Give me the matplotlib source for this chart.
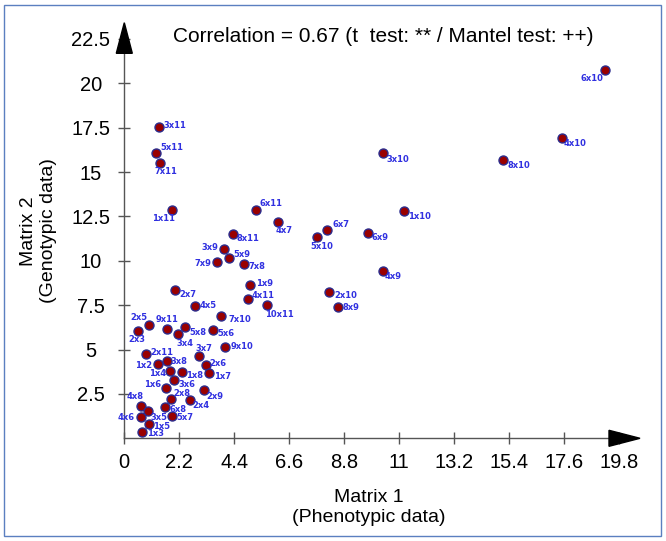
import matplotlib.pyplot as plt
from matplotlib.patches import Polygon, Rectangle

plt.rcParams['font.family'] = ['Liberation Sans', 'DejaVu Sans']

# pair names, phenotypic distance (matrix 1), genotypic distance (matrix 2)
pairs = ['3x11', '5x11', '7x11', '1x11', '6x11', '4x7', '8x11', '3x9', '5x9', '7x9',
         '7x8', '1x9', '4x11', '2x7', '4x5', '10x11', '7x10', '2x5', '9x11', '5x8',
         '2x3', '3x4', '5x6', '9x10', '2x11', '3x7', '3x8', '1x2', '2x6', '1x4',
         '1x8', '1x7', '3x6', '1x6', '2x9', '2x8', '2x4', '4x8', '6x8', '3x5',
         '4x6', '5x7', '1x5', '1x3', '6x7', '5x10', '1x10', '6x9', '4x9', '2x10',
         '8x9', '6x10', '4x10', '3x10', '8x10']
matrix1 = [1.38, 1.27, 1.44, 1.92, 5.28, 6.15, 4.33, 3.98, 4.18, 3.71,
           4.78, 5.04, 4.94, 2.04, 2.83, 5.70, 3.86, 1.00, 1.71, 2.43,
           0.55, 2.15, 3.56, 4.03, 0.87, 2.99, 1.71, 1.35, 3.26, 1.82,
           2.30, 3.39, 1.99, 1.67, 3.18, 1.86, 2.62, 0.66, 1.63, 0.96,
           0.66, 1.90, 0.98, 0.72, 8.10, 7.70, 11.20, 9.75, 10.34, 8.19,
           8.54, 19.23, 17.50, 10.34, 15.16]
matrix2 = [17.54, 16.09, 15.49, 12.88, 12.85, 12.17, 11.50, 10.66, 10.17, 9.92,
           9.82, 8.64, 7.85, 8.35, 7.47, 7.50, 6.91, 6.40, 6.16, 6.27,
           6.06, 5.86, 6.10, 5.16, 4.75, 4.64, 4.34, 4.19, 4.13, 3.81,
           3.75, 3.66, 3.28, 2.82, 2.70, 2.21, 2.16, 1.84, 1.76, 1.54,
           1.18, 1.24, 0.82, 0.34, 11.75, 11.34, 12.81, 11.56, 9.43, 8.26,
           7.40, 20.75, 16.90, 16.09, 15.68]

xticks = [0, 2.2, 4.4, 6.6, 8.8, 11, 13.2, 15.4, 17.6, 19.8]
yticks = [2.5, 5, 7.5, 10, 12.5, 15, 17.5, 20, 22.5]

# label offsets from the point, in pixels (right, down)
label_off = {
    '3x11': (16.6, -1.3), '5x11': (16.3, -5.4), '7x11': (5.7, 8), '1x11': (-9, 9.3),
    '6x11': (14.7, -6.5), '4x7': (6.3, 8), '8x11': (15.2, 4.1), '3x9': (-14, -2),
    '5x9': (13.3, -3), '7x9': (-14.3, 1.4), '7x8': (13, 3), '1x9': (14, -1.3),
    '4x11': (15.6, -3.3), '2x7': (13, 4), '4x5': (13.3, 0), '10x11': (12.3, 9.1),
    '7x10': (18.6, 3.6), '2x5': (-10, -7.4), '9x11': (0, -9), '5x8': (12.7, 5.7),
    '2x3': (-1.3, 8.3), '3x4': (7, 9), '5x6': (12.7, 3.7), '9x10': (16.7, 0),
    '2x11': (16.3, -1.7), '3x7': (5, -7.3), '3x8': (12.3, 0), '1x2': (-14, 2),
    '2x6': (12.6, -1.3), '1x4': (-12.4, 2.6), '1x8': (12.6, 3.6), '1x7': (13.7, 2.7),
    '3x6': (12.7, 4), '1x6': (-13.7, -4), '2x9': (11.3, 6.4), '2x8': (10.6, -6),
    '2x4': (11, 5.3), '4x8': (-5.7, -8.7), '6x8': (12.7, 2.3), '3x5': (11, 6.3),
    '4x6': (-14.7, 0.4), '5x7': (13.3, 1), '1x5': (13, 2.3), '1x3': (13.4, 1),
    '6x7': (14.3, -5), '5x10': (4.6, 9), '1x10': (15, 6), '6x9': (12.3, 4.7),
    '4x9': (10.3, 5.7), '2x10': (16.3, 3.6), '8x9': (13.3, 1), '6x10': (-12.7, 9),
    '4x10': (13.3, 5.4), '3x10': (15, 6.3), '8x10': (15.4, 5.7),
}

W, H = 666, 541
def fx(px):
    return px / W
def fy(py):
    return 1 - py / H

x0, y0 = 124.3, 438.3       # origin in pixels
x_end, y_end = 640, 22.7    # arrow tips
sx, sy = 25.0, 17.75        # pixels per unit

fig = plt.figure(figsize=(6.66, 5.41), dpi=100)
ax = fig.add_axes([fx(x0), fy(y0), (x_end - x0) / W, (y0 - y_end) / H])
ax.set_xlim(0, (x_end - x0) / sx)
ax.set_ylim(0, (y0 - y_end) / sy)

for s in ['top', 'right']:
    ax.spines[s].set_visible(False)
axis_col = '#555555'
ax.spines['bottom'].set_bounds(0, (609 - x0) / sx)
ax.spines['left'].set_bounds(0, (y0 - 53.3) / sy)
for s in ['bottom', 'left']:
    ax.spines[s].set_color(axis_col)
    ax.spines[s].set_linewidth(1)

ax.set_xticks(xticks)
ax.set_xticklabels([f'{t:g}' for t in xticks])
ax.set_yticks(yticks)
ax.set_yticklabels([f'{t:g}' for t in yticks])
ax.tick_params(direction='inout', length=8, width=1, color=axis_col, labelsize=14.5)
ax.tick_params(axis='x', pad=6.8)
ax.tick_params(axis='y', pad=20)
for lab in ax.get_yticklabels():
    lab.set_ha('center')

# arrow heads
fig.patches.append(Polygon([(fx(609), fy(y0 - 8)), (fx(609), fy(y0 + 8)), (fx(x_end), fy(y0))],
                           closed=True, color='black', transform=fig.transFigure, zorder=5))
fig.patches.append(Polygon([(fx(x0 - 8), fy(53.3)), (fx(x0 + 8), fy(53.3)), (fx(x0), fy(y_end))],
                           closed=True, color='black', transform=fig.transFigure, zorder=5))

ax.scatter(matrix1, matrix2, s=42, c='#990000', edgecolors='#2b2b8c', linewidths=1,
           zorder=3, clip_on=False)
for name, x, y in zip(pairs, matrix1, matrix2):
    dx, dy = label_off[name]
    ax.annotate(name, (x, y), xytext=(dx * 0.72, -dy * 0.72), textcoords='offset points',
                ha='center', va='center', fontsize=6, fontweight='bold', color='#3030e0',
                family='DejaVu Sans')

fig.text(fx(383.5), fy(37), 'Correlation = 0.67 (t  test: ** / Mantel test: ++)',
         ha='center', va='center', fontsize=15)
fig.text(fx(369), fy(507.5), 'Matrix 1\n(Phenotypic data)', ha='center', va='center',
         fontsize=14, linespacing=1.2)
fig.text(fx(38.3), fy(231), 'Matrix 2\n(Genotypic data)', ha='center', va='center',
         fontsize=14, rotation=90, linespacing=1.2)

fig.patches.append(Rectangle((fx(4), fy(536)), fx(661) - fx(4), fy(5) - fy(536), fill=False,
                             edgecolor='#5b7fc0', lw=1, transform=fig.transFigure))

fig.savefig('out.png', dpi=100)
